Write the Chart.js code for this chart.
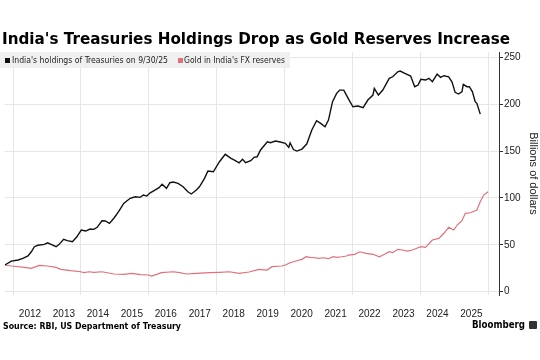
<!DOCTYPE html>
<html><head><meta charset="utf-8">
<script src="https://cdn.jsdelivr.net/npm/chart.js@4.4.1/dist/chart.umd.min.js"></script>
<style>
html,body{margin:0;padding:0;background:#fff;}
#wrap{position:relative;width:540px;height:360px;overflow:hidden;background:#fff;}
canvas{position:absolute;left:0;top:0;}
.t{position:absolute;white-space:nowrap;transform-origin:0 50%;color:#000;}
#title{left:2px;top:31px;font:bold 16px "DejaVu Sans";line-height:16px;}
#legend{position:absolute;left:0;top:52px;width:290px;height:16px;background:#f0f0f0;}
.sq{position:absolute;top:58px;width:5px;height:5px;}
.lt{position:absolute;top:52px;font:9px "DejaVu Sans Condensed","DejaVu Sans";line-height:16px;color:#222;white-space:nowrap;transform-origin:0 50%;}
#source{left:3px;top:321px;font:bold 8.5px "DejaVu Sans";line-height:10px;}
#brand{left:472px;top:319px;font:bold 11px "DejaVu Sans";line-height:12px;}
#icon{position:absolute;left:529px;top:321px;width:8px;height:8px;background:#333;border-radius:1px;}
</style></head>
<body>
<div id="wrap">
<canvas id="c" width="540" height="360"></canvas>
<div class="t" id="title" data-w="508">India's Treasuries Holdings Drop as Gold Reserves Increase</div>
<div id="legend"></div>
<span class="sq" style="left:5px;background:#111"></span>
<span class="lt" style="left:12px" data-w="156">India's holdings of Treasuries on 9/30/25</span>
<span class="sq" style="left:178px;background:#e0707a"></span>
<span class="lt" style="left:184px" data-w="101">Gold in India's FX reserves</span>
<div class="t" id="source" data-w="178">Source: RBI, US Department of Treasury</div>
<div class="t" id="brand" data-w="53">Bloomberg</div>
<div id="icon"></div>
</div>
<script>
// ---- Data ----
const treasuryYears = [2011.76,2011.95,2012.15,2012.29,2012.44,2012.54,2012.63,2012.73,2012.92,2013.02,
2013.12,2013.27,2013.36,2013.49,2013.60,2013.75,2013.88,2014.01,2014.14,2014.27,
2014.38,2014.48,2014.62,2014.72,2014.84,2014.97,2015.11,2015.26,2015.45,2015.60,
2015.74,2015.84,2015.94,2016.04,2016.18,2016.30,2016.39,2016.52,2016.62,2016.72,
2016.86,2017.01,2017.15,2017.25,2017.40,2017.49,2017.64,2017.74,2017.90,2018.08,
2018.25,2018.42,2018.52,2018.66,2018.76,2018.85,2019.00,2019.10,2019.19,2019.29,
2019.49,2019.58,2019.73,2019.87,2020.02,2020.12,2020.16,2020.26,2020.36,2020.51,
2020.65,2020.80,2020.94,2021.06,2021.19,2021.29,2021.41,2021.53,2021.62,2021.74,
2021.87,2022.01,2022.16,2022.31,2022.45,2022.60,2022.64,2022.76,2022.89,2023.08,
2023.18,2023.33,2023.40,2023.54,2023.71,2023.83,2023.93,2024.01,2024.15,2024.25,
2024.35,2024.49,2024.59,2024.69,2024.83,2024.93,2025.02,2025.12,2025.22,2025.26,
2025.37,2025.44,2025.53,2025.61,2025.66,2025.76];
const treasuryValues = [28.5,32.7,33.8,35.6,38.1,42.6,48.0,49.5,50.5,52.2,
50.5,48.0,50.5,55.9,54.4,53.3,58.6,65.8,64.7,66.8,
66.5,68.7,75.7,75.4,72.9,78.3,85.3,94.2,99.6,101.3,
100.6,103.1,102.0,105.5,108.4,110.9,114.5,110.2,116.2,116.9,
115.6,111.9,106.6,104.2,108.4,111.9,120.9,128.7,127.9,138.6,
146.5,142.2,140.4,137.5,141.2,137.5,139.7,143.3,143.9,151.1,
159.9,158.8,160.7,159.6,158.2,153.9,158.8,151.6,150.0,152.1,
157.5,172.4,182.3,179.5,175.9,183.0,202.6,211.5,215.0,215.0,
206.2,197.2,198.0,196.2,204.4,209.7,216.8,209.7,215.0,227.5,
229.2,234.5,235.3,232.8,230.0,218.6,220.4,226.4,225.7,227.5,
223.9,232.1,228.6,230.3,229.2,223.6,212.6,210.8,213.2,221.1,
218.6,218.6,213.2,202.6,200.9,189.4];

const goldYears = [2011.76,2011.95,2012.34,2012.54,2012.68,2012.78,2013.02,2013.27,2013.41,2013.70,
2013.99,2014.09,2014.24,2014.38,2014.62,2014.97,2015.26,2015.50,2015.75,2015.99,
2016.08,2016.23,2016.37,2016.72,2016.91,2017.10,2017.40,2017.79,2018.08,2018.37,
2018.66,2018.95,2019.24,2019.48,2019.63,2019.92,2020.02,2020.16,2020.36,2020.51,
2020.63,2020.75,2020.89,2020.99,2021.14,2021.29,2021.43,2021.53,2021.68,2021.82,
2021.87,2022.06,2022.21,2022.40,2022.60,2022.79,2022.94,2023.08,2023.18,2023.33,
2023.47,2023.62,2023.76,2023.89,2024.01,2024.15,2024.35,2024.54,2024.69,2024.83,
2024.98,2025.08,2025.22,2025.32,2025.47,2025.66,2025.76,2025.86,2025.99];
const goldValues = [28.5,27.4,26.0,24.9,26.7,28.1,27.4,26.0,23.9,22.4,
21.3,20.3,21.3,20.7,21.3,18.9,18.5,19.6,18.2,17.8,
16.7,18.5,20.3,21.3,20.3,18.9,19.6,20.3,20.7,21.3,
19.6,21.0,23.9,23.1,26.7,27.4,28.5,30.9,33.0,34.5,
37.3,36.7,36.2,35.6,36.2,35.2,37.3,36.7,37.3,38.1,
39.1,39.9,42.6,40.9,39.9,37.3,39.9,42.6,41.6,45.2,
44.5,43.4,44.5,46.3,48.0,47.3,55.1,56.9,62.3,68.7,
65.8,71.1,75.7,83.6,84.2,87.1,95.9,103.1,106.6];

const yTicks = [0, 50, 100, 150, 200, 250];
const labelYears = [2012,2013,2014,2015,2016,2017,2018,2019,2020,2021,2022,2023,2024,2025];
const gridYears = [2012,2014,2016,2018,2020,2022,2024,2026];
const seriesNames = ["India's holdings of Treasuries on 9/30/25", "Gold in India's FX reserves"];

// ---- fit overlay text widths ----
document.querySelectorAll('[data-w]').forEach(el => {
  const w = el.getBoundingClientRect().width;
  const target = parseFloat(el.dataset.w);
  if (w > 0) el.style.transform = 'scaleX(' + (target / w) + ')';
});

const FONT = 'Liberation Sans';
new Chart(document.getElementById('c'), {
  type: 'line',
  data: {
    datasets: [
      { label: seriesNames[0], data: treasuryYears.map((x, i) => ({ x, y: treasuryValues[i] })),
        borderColor: '#111', borderWidth: 1.4, pointRadius: 0, tension: 0, fill: false, order: 0 },
      { label: seriesNames[1], data: goldYears.map((x, i) => ({ x, y: goldValues[i] })),
        borderColor: '#e0707a', borderWidth: 1.2, pointRadius: 0, tension: 0, fill: false, order: 1 }
    ]
  },
  options: {
    responsive: false, animation: false, devicePixelRatio: 1,
    layout: { padding: { top: 52, left: 0, right: 0, bottom: 40 } },
    plugins: { legend: { display: false }, tooltip: { enabled: false }, title: { display: false } },
    scales: {
      x: {
        type: 'linear', min: 2011.758, max: 2026.312,
        afterBuildTicks: s => {
          const t = gridYears.map(v => ({ value: v })).concat(labelYears.map(v => ({ value: v + 0.5 })));
          t.sort((a, b) => a.value - b.value);
          s.ticks = t;
        },
        afterFit: s => { s.height = 25; },
        grid: {
          color: c => (c.tick && Number.isInteger(c.tick.value)) ? '#e6e6e6' : 'rgba(0,0,0,0)',
          drawTicks: false, lineWidth: 1
        },
        border: { display: false },
        ticks: {
          autoSkip: false, maxRotation: 0, minRotation: 0, padding: 13, color: '#222',
          font: { family: FONT, size: 10 },
          callback: v => (Math.abs(v % 1 - 0.5) < 0.01) ? String(Math.floor(v)) : ''
        }
      },
      y: {
        position: 'right', min: -3.5, max: 255.6,
        afterBuildTicks: s => { s.ticks = yTicks.map(v => ({ value: v })); },
        afterFit: s => { s.width = 41; },
        grid: { color: '#e6e6e6', tickColor: '#333', tickLength: 4, drawTicks: true, lineWidth: 1 },
        border: { display: true, color: '#333', width: 1 },
        ticks: { padding: 1, color: '#222', font: { family: FONT, size: 10 } },
        title: { display: true, text: 'Billions of dollars', color: '#222',
                 font: { family: FONT, size: 11 }, padding: { top: 0, bottom: 2 } }
      }
    }
  }
});
</script>
</body></html>
